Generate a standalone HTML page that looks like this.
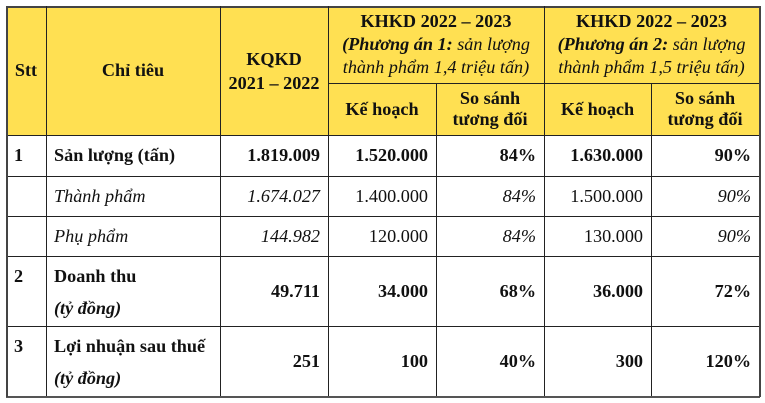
<!DOCTYPE html>
<html><head><meta charset="utf-8"><style>
body{margin:0;width:765px;height:403px;background:#fff;position:relative;overflow:hidden;font-family:"Liberation Serif",serif;font-size:18.2px;color:#111}
.c{position:absolute;display:flex;align-items:center;box-sizing:border-box;line-height:23px}
.y{background:#FFE052}
.h{position:absolute;background:#222;height:1.5px}
.v{position:absolute;background:#222;width:1.5px}
.b{font-weight:bold}.i{font-style:italic}
.ctr{justify-content:center;text-align:center}
.r{justify-content:flex-end;padding-right:8px}
.l{padding-left:8px}
</style></head><body>
<div class="c y" style="left:6px;top:6px;width:753px;height:129px"></div>

<div class="c ctr b" style="left:6px;top:6px;width:40px;height:129px">Stt</div>
<div class="c ctr b" style="left:46px;top:6px;width:174px;height:129px">Chỉ tiêu</div>
<div class="c ctr b" style="left:220px;top:6px;width:108px;height:129px;line-height:24px">KQKD<br>2021 – 2022</div>
<div class="c ctr" style="left:328px;top:6px;width:216px;height:77px;flex-direction:column;justify-content:center"><span class="b">KHKD 2022 – 2023</span><span class="i"><b>(Phương án 1:</b> sản lượng</span><span class="i">thành phẩm 1,4 triệu tấn)</span></div>
<div class="c ctr" style="left:544px;top:6px;width:215px;height:77px;flex-direction:column;justify-content:center"><span class="b">KHKD 2022 – 2023</span><span class="i"><b>(Phương án 2:</b> sản lượng</span><span class="i">thành phẩm 1,5 triệu tấn)</span></div>
<div class="c ctr b" style="left:328px;top:83px;width:108px;height:52px">Kế hoạch</div>
<div class="c ctr b" style="left:436px;top:83px;width:108px;height:52px;line-height:21px">So sánh<br>tương đối</div>
<div class="c ctr b" style="left:544px;top:83px;width:107px;height:52px">Kế hoạch</div>
<div class="c ctr b" style="left:651px;top:83px;width:108px;height:52px;line-height:21px">So sánh<br>tương đối</div>

<!-- row 1 -->
<div class="c l b" style="left:6px;top:135px;width:40px;height:41px">1</div>
<div class="c l b" style="left:46px;top:135px;width:174px;height:41px">Sản lượng (tấn)</div>
<div class="c r b" style="left:220px;top:135px;width:108px;height:41px">1.819.009</div>
<div class="c r b" style="left:328px;top:135px;width:108px;height:41px">1.520.000</div>
<div class="c r b" style="left:436px;top:135px;width:108px;height:41px">84%</div>
<div class="c r b" style="left:544px;top:135px;width:107px;height:41px">1.630.000</div>
<div class="c r b" style="left:651px;top:135px;width:108px;height:41px">90%</div>
<!-- row 2 -->
<div class="c l i" style="left:46px;top:176px;width:174px;height:40px">Thành phẩm</div>
<div class="c r i" style="left:220px;top:176px;width:108px;height:40px">1.674.027</div>
<div class="c r" style="left:328px;top:176px;width:108px;height:40px">1.400.000</div>
<div class="c r i" style="left:436px;top:176px;width:108px;height:40px">84%</div>
<div class="c r" style="left:544px;top:176px;width:107px;height:40px">1.500.000</div>
<div class="c r i" style="left:651px;top:176px;width:108px;height:40px">90%</div>
<!-- row 3 -->
<div class="c l i" style="left:46px;top:216px;width:174px;height:40px">Phụ phẩm</div>
<div class="c r i" style="left:220px;top:216px;width:108px;height:40px">144.982</div>
<div class="c r" style="left:328px;top:216px;width:108px;height:40px">120.000</div>
<div class="c r i" style="left:436px;top:216px;width:108px;height:40px">84%</div>
<div class="c r" style="left:544px;top:216px;width:107px;height:40px">130.000</div>
<div class="c r i" style="left:651px;top:216px;width:108px;height:40px">90%</div>
<!-- row 4 -->
<div class="c l b" style="left:6px;top:262px;width:40px;height:28px">2</div>
<div class="c l" style="left:46px;top:260px;width:174px;height:64px;flex-direction:column;align-items:flex-start;justify-content:space-around"><span class="b">Doanh thu</span><span class="b i">(tỷ đồng)</span></div>
<div class="c r b" style="left:220px;top:256px;width:108px;height:70px">49.711</div>
<div class="c r b" style="left:328px;top:256px;width:108px;height:70px">34.000</div>
<div class="c r b" style="left:436px;top:256px;width:108px;height:70px">68%</div>
<div class="c r b" style="left:544px;top:256px;width:107px;height:70px">36.000</div>
<div class="c r b" style="left:651px;top:256px;width:108px;height:70px">72%</div>
<!-- row 5 -->
<div class="c l b" style="left:6px;top:332px;width:40px;height:28px">3</div>
<div class="c l" style="left:46px;top:330px;width:174px;height:64px;flex-direction:column;align-items:flex-start;justify-content:space-around"><span class="b">Lợi nhuận sau thuế</span><span class="b i">(tỷ đồng)</span></div>
<div class="c r b" style="left:220px;top:326px;width:108px;height:70px">251</div>
<div class="c r b" style="left:328px;top:326px;width:108px;height:70px">100</div>
<div class="c r b" style="left:436px;top:326px;width:108px;height:70px">40%</div>
<div class="c r b" style="left:544px;top:326px;width:107px;height:70px">300</div>
<div class="c r b" style="left:651px;top:326px;width:108px;height:70px">120%</div>

<!-- lines -->
<div class="h" style="left:6px;top:5.5px;width:754px;height:2px;background:#444"></div>
<div class="h" style="left:328px;top:82.5px;width:431px"></div>
<div class="h" style="left:6px;top:134.5px;width:754px"></div>
<div class="h" style="left:6px;top:175.5px;width:754px"></div>
<div class="h" style="left:6px;top:215.5px;width:754px"></div>
<div class="h" style="left:6px;top:255.5px;width:754px"></div>
<div class="h" style="left:6px;top:325.5px;width:754px"></div>
<div class="h" style="left:6px;top:395.5px;width:754px;height:2px;background:#555"></div>
<div class="v" style="left:5.5px;top:6px;height:391px;width:2px;background:#444"></div>
<div class="v" style="left:45.5px;top:6px;height:390px"></div>
<div class="v" style="left:219.5px;top:6px;height:390px"></div>
<div class="v" style="left:327.5px;top:6px;height:390px"></div>
<div class="v" style="left:435.5px;top:83px;height:313px"></div>
<div class="v" style="left:543.5px;top:6px;height:390px"></div>
<div class="v" style="left:650.5px;top:83px;height:313px"></div>
<div class="v" style="left:758.5px;top:6px;height:391px;width:2px;background:#444"></div>
</body></html>
